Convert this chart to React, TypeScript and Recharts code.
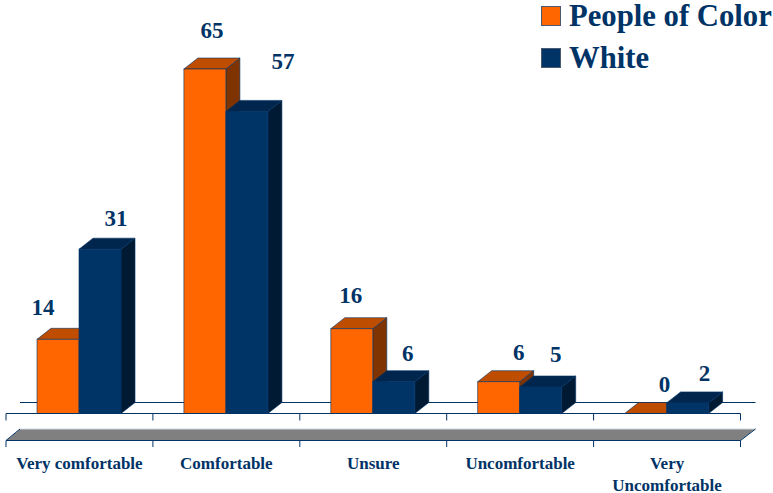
import React from 'react';
import { BarChart, Bar, XAxis, YAxis, Legend, LabelList, usePlotArea } from 'recharts';

const categories = ['Very comfortable', 'Comfortable', 'Unsure', 'Uncomfortable', 'Very\nUncomfortable'];
const peopleOfColor = [14, 65, 16, 6, 0];
const white = [31, 57, 6, 5, 2];

const data = categories.map((name, i) => ({ name, poc: peopleOfColor[i], white: white[i] }));

const NAVY = '#003366';
const FONT = '"Liberation Serif", serif';
const DEPTH_X = 14;
const DEPTH_Y = 11;

// hand placed label nudges, the original labels don't sit centred on the bars
const pocNudge = [[-15, -24], [7, -31], [-1, -26], [20, -22], [19, -22]];
const whiteNudge = [[16, -23], [36, -42], [14, -21], [15, -25], [17, -22]];

function Box3D(props: any) {
  const { x, y, width, height, fill, top, side } = props;
  const r = x + width;
  const b = y + height;
  const line = { stroke: NAVY, strokeWidth: 0.8, strokeOpacity: 0.75 };
  return (
    <g>
      <polygon points={`${r},${y} ${r + DEPTH_X},${y - DEPTH_Y} ${r + DEPTH_X},${b - DEPTH_Y} ${r},${b}`} fill={side} {...line} />
      <polygon points={`${x},${y} ${x + DEPTH_X},${y - DEPTH_Y} ${r + DEPTH_X},${y - DEPTH_Y} ${r},${y}`} fill={top} {...line} />
      {height > 0 && <rect x={x} y={y} width={width} height={height} fill={fill} {...line} />}
    </g>
  );
}

function Floor() {
  const plot = usePlotArea();
  if (!plot) return null;
  const left = plot.x;
  const right = plot.x + plot.width;
  const base = plot.y + plot.height;
  const step = plot.width / categories.length;
  const marks = Array.from({ length: categories.length + 1 }, (_, i) => left + i * step);
  return (
    <g>
      <line x1={left + DEPTH_X} x2={right + DEPTH_X + 1} y1={base - DEPTH_Y} y2={base - DEPTH_Y} stroke={NAVY} />
      <polygon
        points={`${left},440.5 ${left + DEPTH_X},429 ${right + DEPTH_X + 1},429 ${right},440.5`}
        fill="#808080"
        stroke="#cfd8e3"
        strokeWidth={1}
      />
      <polyline points={`${left + DEPTH_X},429 ${left},440.5 ${right},440.5 ${right + DEPTH_X + 1},429`} fill="none" stroke={NAVY} />
      {marks.map((m) => (
        <g key={m}>
          <line x1={m} x2={m} y1={base} y2={base + 7} stroke={NAVY} />
          <line x1={m} x2={m} y1={440.5} y2={447} stroke={NAVY} />
        </g>
      ))}
    </g>
  );
}

function CategoryTick({ x, payload }: any) {
  const lines = String(payload.value).split('\n');
  return (
    <text textAnchor="middle" fontFamily={FONT} fontWeight="bold" fontSize={17} fill={NAVY}>
      {lines.map((l, i) => (
        <tspan key={l} x={x} y={469 + i * 21.5}>{l}</tspan>
      ))}
    </text>
  );
}

function valueLabel(nudge: number[][]) {
  return function ValueLabel({ x, y, width, value, index }: any) {
    const [dx, dy] = nudge[index];
    return (
      <text x={x + width / 2 + dx} y={y + dy} textAnchor="middle" fontFamily={FONT} fontWeight="bold" fontSize={23} fill={NAVY}>
        {value}
      </text>
    );
  };
}

function SeriesLegend({ payload }: any) {
  return (
    <div style={{ fontFamily: FONT, fontWeight: 'bold', fontSize: 30.7, color: NAVY, lineHeight: '42px' }}>
      {(payload || []).map((p: any) => (
        <div key={p.value} style={{ display: 'flex', alignItems: 'center', whiteSpace: 'nowrap' }}>
          <span style={{ width: 18, height: 18, background: p.color, border: '1px solid #4a5a70', marginRight: 8, boxSizing: 'content-box' }} />
          {p.value}
        </div>
      ))}
    </div>
  );
}

export default function App() {
  return (
    <div style={{ position: 'absolute', left: 0, top: 0, width: 773, height: 493 }}>
      <BarChart
        width={773}
        height={493}
        data={data}
        margin={{ top: 42.5, right: 32.5, bottom: 0, left: 6 }}
        barCategoryGap={31}
        barGap={0}
      >
        <Floor />
        <XAxis
          dataKey="name"
          height={79.5}
          interval={0}
          tickLine={false}
          axisLine={{ stroke: NAVY }}
          tick={<CategoryTick />}
        />
        <YAxis hide domain={[0, 70]} />
        <Bar
          dataKey="poc"
          name="People of Color"
          fill="#FF6600"
          isAnimationActive={false}
          shape={(p: any) => <Box3D {...p} fill="#FF6600" top="#BF4D00" side="#7F3300" />}
        >
          <LabelList dataKey="poc" content={valueLabel(pocNudge)} />
        </Bar>
        <Bar
          dataKey="white"
          name="White"
          fill={NAVY}
          isAnimationActive={false}
          shape={(p: any) => <Box3D {...p} fill={NAVY} top="#00264D" side="#001A33" />}
        >
          <LabelList dataKey="white" content={valueLabel(whiteNudge)} />
        </Bar>
        <Legend
          layout="vertical"
          align="center"
          verticalAlign="middle"
          content={<SeriesLegend />}
          wrapperStyle={{ left: 541, top: -5, width: 232, bottom: 'auto', right: 'auto' }}
        />
      </BarChart>
    </div>
  );
}
